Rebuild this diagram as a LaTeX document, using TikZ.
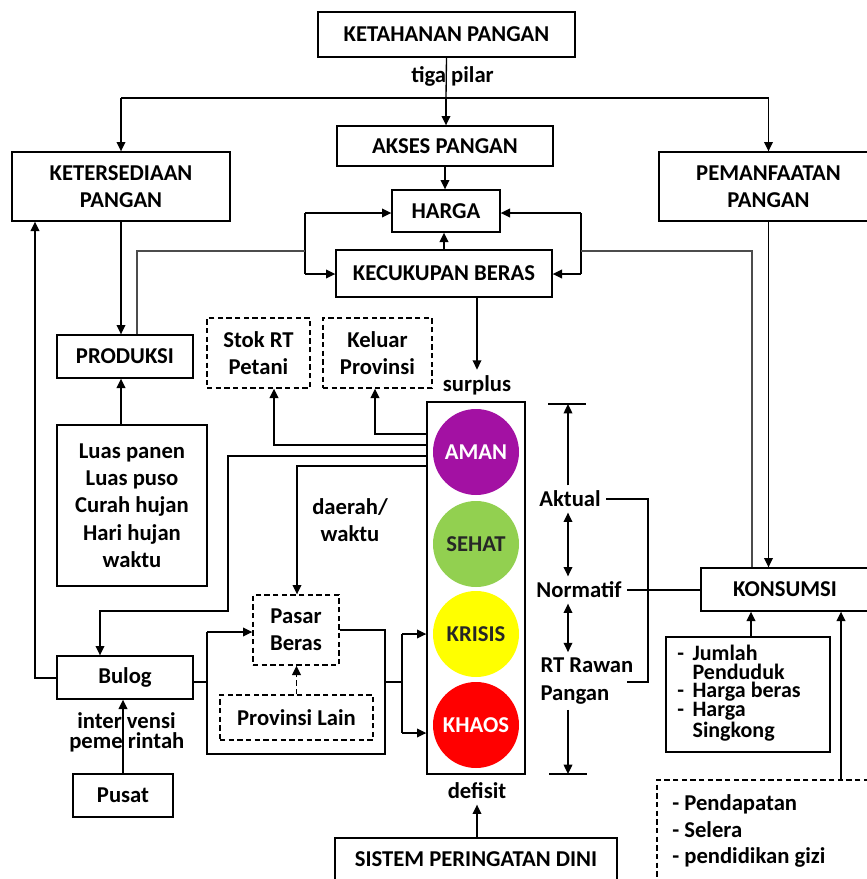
\documentclass[tikz,border=0pt]{standalone}
\usepackage{fontspec}
\setmainfont{Carlito}
\usetikzlibrary{arrows.meta,fit}
\definecolor{amanc}{RGB}{163,17,163}
\definecolor{sehatc}{RGB}{146,208,80}
\definecolor{krisisc}{RGB}{255,255,0}
\definecolor{khaosc}{RGB}{255,0,0}
\begin{document}
\begin{tikzpicture}[x=0.75pt,y=-0.75pt,
  every node/.style={font=\fontsize{17}{20.5}\selectfont\bfseries},
  box/.style={draw,line width=1pt,inner sep=0pt},
  dbox/.style={box,dash pattern=on 4pt off 2.5pt},
  txt/.style={label={[align=center,inner sep=0pt]center:{#1}}},
  lbl/.style={inner sep=0pt,align=center},
  sclbl/.style={inner sep=4pt,align=left},
  ln/.style={line width=1pt},
  arr/.style={ln,-{Triangle[length=7pt,width=6.5pt]}},
  darr/.style={ln,{Triangle[length=7pt,width=6.5pt]}-{Triangle[length=7pt,width=6.5pt]}},
  lamp/.style={circle,minimum size=64.5pt,inner sep=0pt}]
\useasboundingbox (0,0) rectangle (867,879);
\clip (0,0) rectangle (867,879);

% --- boxes ---
\node[box,fit={(318,12) (575,57)},txt={KETAHANAN PANGAN}] (ket) {};
\node[box,fit={(337,126) (553,166)},txt={AKSES PANGAN}] (akses) {};
\node[box,fit={(12,152) (230,221)},txt={KETERSEDIAAN\\PANGAN}] (kts) {};
\node[box,fit={(659,152) (878,221)},txt={PEMANFAATAN\\PANGAN}] (pem) {};
\node[box,fit={(392,190) (500,232)},txt={HARGA}] (harga) {};
\node[box,fit={(336,250) (552,297)},txt={KECUKUPAN BERAS}] (kec) {};
\node[box,fit={(57,335) (193,378)},txt={PRODUKSI}] (prod) {};
\node[box,fit={(57,425) (207,586)},txt={Luas panen\\Luas puso\\Curah hujan\\Hari hujan\\waktu}] (luas) {};
\node[dbox,fit={(207,318) (310,388)},txt={Stok RT\\Petani}] (stok) {};
\node[dbox,fit={(323,318) (432,388)},txt={Keluar\\Provinsi}] (kel) {};
\node[dbox,fit={(253,595) (339,665)},txt={Pasar\\Beras}] (pasar) {};
\node[dbox,fit={(220,695) (373,740)},txt={Provinsi Lain}] (provl) {};
\node[box,fit={(57,656) (193,699)},txt={Bulog}] (bulog) {};
\node[box,fit={(73,774) (173,817)},txt={Pusat}] (pusat) {};
\node[box,fit={(335,838) (617,880)},txt={SISTEM PERINGATAN DINI}] (sis) {};
\node[box,fit={(701,568) (869,611)},txt={KONSUMSI}] (kons) {};
\node[box,fit={(666,637) (830,752)}] (faktor) {};
\node[anchor=west,align=left,inner sep=0pt,font=\fontsize{16.5}{14}\selectfont\bfseries]
  (faktortx) at (677,693)
  {\makebox[11.5pt][l]{-}Jumlah\\\makebox[11.5pt][l]{}Penduduk\\\makebox[11.5pt][l]{-}Harga beras\\\makebox[11.5pt][l]{-}Harga\\\makebox[11.5pt][l]{}Singkong};
\node[dbox,fit={(657,780) (885,900)}] (pend) {};
\node[anchor=west,align=left,inner sep=0pt,font=\fontsize{17}{19.9}\selectfont\bfseries]
  (pendtx) at (672,831) {- Pendapatan\\- Selera\\- pendidikan gizi};

% --- traffic light ---
\node[draw,line width=1pt,inner sep=0pt,fit={(427,402) (525,774)}] (tl) {};
\node[lamp,fill=amanc,text=white] (aman) at (476,452) {AMAN};
\node[lamp,fill=sehatc,text=black!85] (sehat) at (476,544) {SEHAT};
\node[lamp,fill=krisisc,text=black!85] (krisis) at (476,634) {KRISIS};
\node[lamp,fill=khaosc,text=white] (khaos) at (476,725) {KHAOS};
\node[sclbl] (surplus) at (477,385) {surplus};
\node[sclbl] (defisit) at (477,791) {defisit};

% --- labels ---
\node[lbl,anchor=base west] (tiga) at (411,82) {tiga pilar};
\node[lbl,anchor=base west] (interv) at (77,728) {inter vensi};
\node[lbl,anchor=base west] (pemer) at (69,748) {peme rintah};
\node[lbl] (daerah) at (350,520) {daerah/\\waktu};

% --- three pillars ---
\coordinate (tj) at (446,98);
\draw[ln] (ket.south) -- (tj);
\draw[ln] (tj -| kts.north) -- (tj -| pem.north);
\draw[arr] (tj) -- (tj |- akses.north);
\draw[arr] (tj -| kts.north) -- (kts.north);
\draw[arr] (tj -| pem.north) -- (pem.north);
\draw[arr] (akses.south) -- (akses.south |- harga.north);
\draw[arr] (kec.north) -- (kec.north |- harga.south);

% --- loops around HARGA / KECUKUPAN BERAS ---
\coordinate (lt) at (305,213);
\coordinate (lb) at (305,274);
\coordinate (rt) at (581,213);
\coordinate (rb) at (581,274);
\coordinate (pm) at (137,251);
\coordinate (km) at (752,251);
\draw[ln] (lt) -- (lb);
\draw[arr] (lt) -- (lt -| harga.west);
\draw[arr] (lb) -- (lb -| kec.west);
\draw[ln] (rt) -- (rb);
\draw[arr] (rt) -- (rt -| harga.east);
\draw[arr] (rb) -- (rb -| kec.east);
\draw[ln,black!70] (prod.north -| pm) -- (pm) -- (pm -| lt);
\draw[ln,black!70] (km -| rt) -- (km) -- (km |- kons.north);

% --- availability branch ---
\draw[arr] (kts.south) -- (kts.south |- prod.north);
\draw[arr] (luas.north -| kts.south) -- (kts.south |- prod.south);
\draw[arr] (pem.south) -- (pem.south |- kons.north);

% --- from the traffic light ---
\draw[arr] (kec.south -| surplus) -- (surplus.north);
\draw[arr] (sis.north -| defisit) -- (defisit.south);
\coordinate (s1) at (274,445);
\coordinate (k1) at (375,434);
\coordinate (b1) at (228,456);
\coordinate (b2) at (228,611);
\coordinate (b3) at (100,611);
\coordinate (p1) at (297,466);
\draw[arr] (s1 -| tl.west) -- (s1) -- (s1 |- stok.south);
\draw[arr] (k1 -| tl.west) -- (k1) -- (k1 |- kel.south);
\draw[arr] (b1 -| tl.west) -- (b1) -- (b2) -- (b3) -- (b3 |- bulog.north);
\draw[arr] (p1 -| tl.west) -- (p1) -- (p1 |- pasar.north);
\draw[arr,dash pattern=on 4pt off 2.5pt] (provl.north) -- (provl.north |- pasar.south);

% --- Bulog and market ---
\coordinate (q1) at (207,682);
\coordinate (q2) at (207,632);
\coordinate (q3) at (207,754);
\coordinate (q4) at (385,754);
\coordinate (q5) at (385,630);
\coordinate (q6) at (385,682);
\coordinate (q7) at (402,682);
\coordinate (q8) at (402,634);
\coordinate (q9) at (402,733);
\draw[ln] (bulog.east |- q1) -- (q1);
\draw[ln] (q2) -- (q3) -- (q4) -- (q5) -- (q5 -| pasar.east);
\draw[arr] (q2) -- (q2 -| pasar.west);
\draw[ln] (q6) -- (q7);
\draw[ln] (q8) -- (q9);
\draw[arr] (q8) -- (q8 -| tl.west);
\draw[arr] (q9) -- (q9 -| tl.west);
\coordinate (c1) at (35,678);
\draw[arr] (bulog.west |- c1) -- (c1) -- (c1 |- kts.south);
\draw[arr] (pusat.north) -- (pusat.north |- bulog.south);

% --- scale: Aktual / Normatif / RT Rawan Pangan ---
\node[sclbl] (aktual) at (570,499) {Aktual};
\node[sclbl] (norm) at (579,590) {Normatif};
\node[sclbl,anchor=west,font=\fontsize{17}{21}\selectfont\bfseries] (rawan) at (535,681) {RT Rawan\\Pangan};
\coordinate (st) at (568,404);
\coordinate (sb) at (568,774);
\draw[ln] (st) ++(-20,0) -- ++(38,0);
\draw[ln] (sb) ++(-19,0) -- ++(38,0);
\draw[arr] (aktual.north -| st) -- (st);
\draw[darr] (aktual.south -| st) -- (norm.north -| st);
\draw[darr] (norm.south -| st) -- (rawan.north -| st);
\draw[arr] (rawan.south -| st) -- (sb);
\coordinate (br1) at (648,499);
\coordinate (br2) at (648,682);
\coordinate (br3) at (627,682);
\draw[ln] (aktual.east) -- (br1) -- (br2) -- (br3);
\draw[ln] (norm.east) -- (norm.east -| kons.west);
\coordinate (f1) at (751,637);
\draw[arr] (faktor.north -| f1) -- (f1 |- kons.south);
\coordinate (u1) at (841,780);
\draw[arr] (pend.north -| u1) -- (u1 |- kons.south);
\end{tikzpicture}
\end{document}
